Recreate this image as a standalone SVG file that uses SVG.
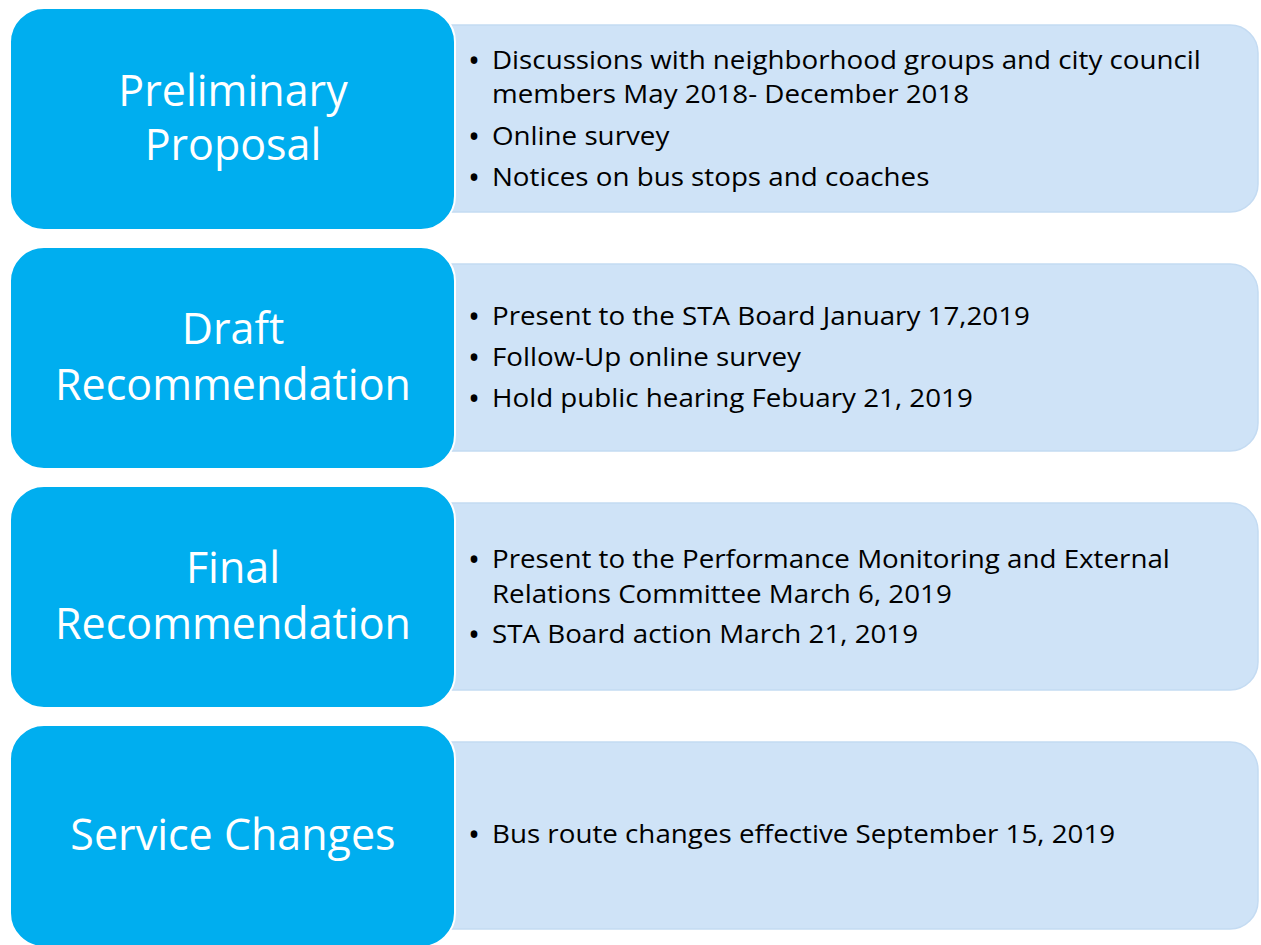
<svg xmlns="http://www.w3.org/2000/svg" width="1261" height="945" viewBox="0 0 1261 945">
  <style>
    .stage { fill: #00AEEF; stroke: #FFFFFF; stroke-width: 2; }
    .detail { fill: #CFE3F7; stroke: #C4DBF2; stroke-width: 1.5; }
    .title { font-family: "Open Sans", "Liberation Sans", sans-serif; font-size: 43px; fill: #FFFFFF; text-anchor: middle; }
    .item { font-family: "Open Sans", "Liberation Sans", sans-serif; font-size: 25px; fill: #000000; }
    .dot { font-family: "Open Sans", "Liberation Sans", sans-serif; font-size: 32px; fill: #000000; }
  </style>
  <defs>
    <!-- detail panel: square left edge tucked under the stage box, rounded right corners -->
    <path id="panel" d="M445 0 H1230 A28 28 0 0 1 1258 28 V159 A28 28 0 0 1 1230 187 H445 Z"/>
  </defs>

  <!-- Stage 1 -->
  <g id="preliminary-proposal">
    <use href="#panel" class="detail" y="25"/>
    <rect class="stage" x="10" y="8" width="445" height="222" rx="34"/>
    <text class="title" x="233" y="106">Preliminary</text>
    <text class="title" x="233" y="160">Proposal</text>
    <text class="dot" x="468" y="72">•</text>
    <text class="dot" x="468" y="148">•</text>
    <text class="dot" x="468" y="189">•</text>
    <g transform="translate(492 0) scale(1.11 1) translate(-492 0)">
      <text class="item" x="492" y="69">Discussions with neighborhood groups and city council</text>
      <text class="item" x="492" y="103">members May 2018- December 2018</text>
      <text class="item" x="492" y="145">Online survey</text>
      <text class="item" x="492" y="186">Notices on bus stops and coaches</text>
    </g>
  </g>

  <!-- Stage 2 -->
  <g id="draft-recommendation">
    <use href="#panel" class="detail" y="264"/>
    <rect class="stage" x="10" y="247" width="445" height="222" rx="34"/>
    <text class="title" x="233" y="344">Draft</text>
    <text class="title" x="233" y="400">Recommendation</text>
    <text class="dot" x="468" y="328">•</text>
    <text class="dot" x="468" y="369">•</text>
    <text class="dot" x="468" y="410">•</text>
    <g transform="translate(492 0) scale(1.11 1) translate(-492 0)">
      <text class="item" x="492" y="325">Present to the STA Board January 17,2019</text>
      <text class="item" x="492" y="366">Follow-Up online survey</text>
      <text class="item" x="492" y="407">Hold public hearing Febuary 21, 2019</text>
    </g>
  </g>

  <!-- Stage 3 -->
  <g id="final-recommendation">
    <use href="#panel" class="detail" y="503"/>
    <rect class="stage" x="10" y="486" width="445" height="222" rx="34"/>
    <text class="title" x="233" y="583">Final</text>
    <text class="title" x="233" y="639">Recommendation</text>
    <text class="dot" x="468" y="571">•</text>
    <text class="dot" x="468" y="646">•</text>
    <g transform="translate(492 0) scale(1.11 1) translate(-492 0)">
      <text class="item" x="492" y="568">Present to the Performance Monitoring and External</text>
      <text class="item" x="492" y="603">Relations Committee March 6, 2019</text>
      <text class="item" x="492" y="643">STA Board action March 21, 2019</text>
    </g>
  </g>

  <!-- Stage 4 -->
  <g id="service-changes">
    <use href="#panel" class="detail" y="742"/>
    <rect class="stage" x="10" y="725" width="445" height="222" rx="34"/>
    <text class="title" x="233" y="850">Service Changes</text>
    <text class="dot" x="468" y="846">•</text>
    <g transform="translate(492 0) scale(1.11 1) translate(-492 0)">
      <text class="item" x="492" y="843">Bus route changes effective September 15, 2019</text>
    </g>
  </g>

  <!-- the stages are stacked vertically; no connectors between them -->
  <g id="connectors"/>
</svg>
